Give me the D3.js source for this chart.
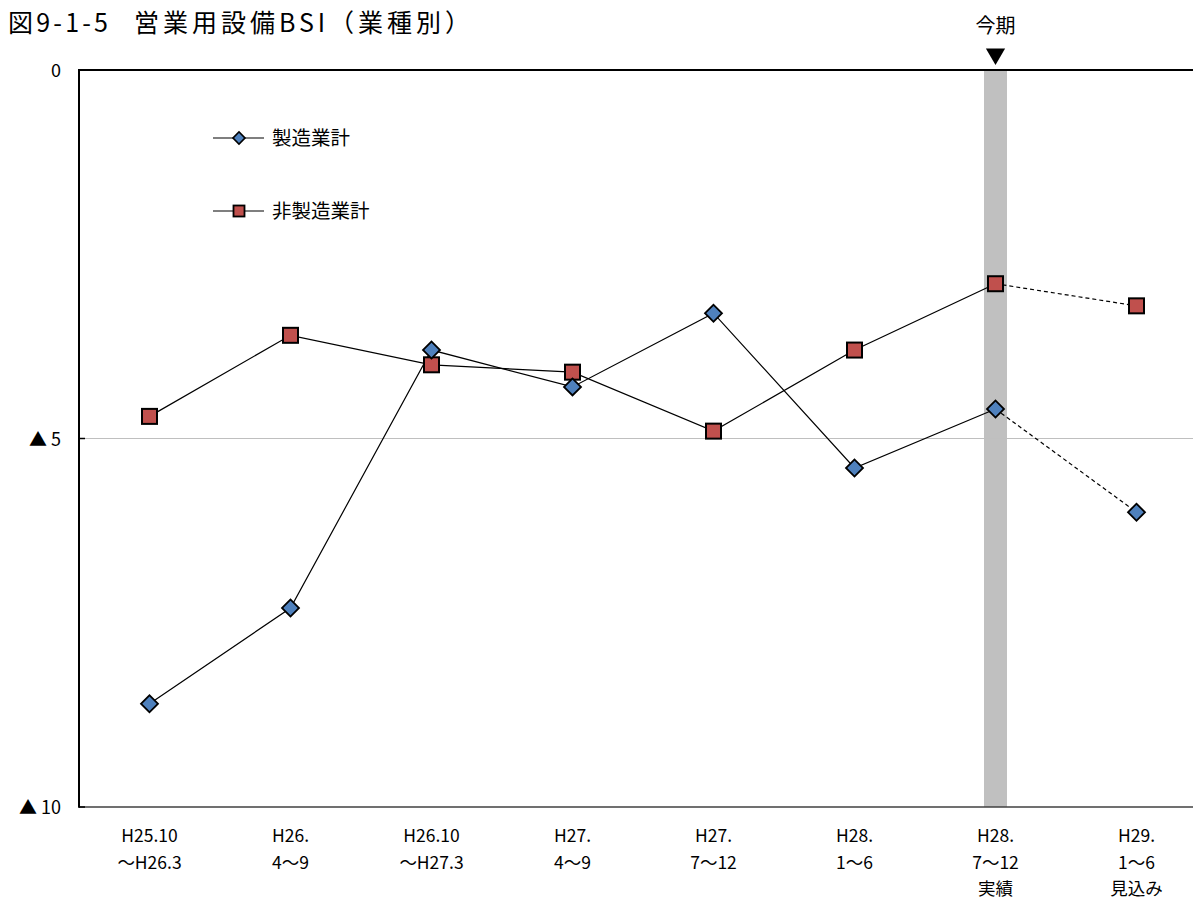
<!DOCTYPE html>
<html><head><meta charset="utf-8">
<script src="https://cdn.jsdelivr.net/npm/d3@7"></script>
<style>
body{margin:0;background:#fff;}
svg{display:block;font-family:"Noto Sans CJK JP","Noto Sans",sans-serif;}
</style></head>
<body><svg id="c" width="1193" height="901"></svg>
<script>
const categories = [
  ["H25.10","～H26.3"],
  ["H26.","4～9"],
  ["H26.10","～H27.3"],
  ["H27.","4～9"],
  ["H27.","7～12"],
  ["H28.","1～6"],
  ["H28.","7～12","実績"],
  ["H29.","1～6","見込み"]
];
const manufacturing = [-8.6, -7.3, -3.8, -4.3, -3.3, -5.4, -4.6, -6.0];
const nonManufacturing = [-4.7, -3.6, -4.0, -4.1, -4.9, -3.8, -2.9, -3.2];
const yTicks = [0, -5, -10];
const yTickLabels = ["0", "▲ 5", "▲ 10"];
const seriesNames = ["製造業計", "非製造業計"];
const titleParts = ["図9-1-5", "営業用設備BSI（業種別）"];
const currentIndex = 6;

const svg = d3.select("#c");
const x = d3.scaleBand().domain(d3.range(categories.length)).range([79, 1207]);
const y = d3.scaleLinear().domain([-10, 0]).range([807, 70]);
const cx = i => x(i) + x.bandwidth() / 2;

// title
svg.append("text").attr("x", 8).attr("y", 32).attr("font-size", 25)
  .attr("fill", "#000").attr("textLength", 100).attr("lengthAdjust", "spacing")
  .text(titleParts[0]);
svg.append("text").attr("x", 134).attr("y", 32).attr("font-size", 25)
  .attr("fill", "#000").attr("textLength", 336).attr("lengthAdjust", "spacing")
  .text(titleParts[1]);

// current period band
svg.append("rect").attr("x", cx(currentIndex) - 11.5).attr("width", 23)
  .attr("y", y(0)).attr("height", y(-10) - y(0)).attr("fill", "#c0c0c0");

// gridline at -5
svg.append("line").attr("x1", 79).attr("x2", 1193).attr("y1", y(-5)).attr("y2", y(-5))
  .attr("stroke", "#bfbfbf").attr("stroke-width", 1);

// axes
svg.append("line").attr("x1", 79).attr("x2", 1193).attr("y1", y(0)).attr("y2", y(0))
  .attr("stroke", "#000").attr("stroke-width", 2);
svg.append("line").attr("x1", 79).attr("x2", 1193).attr("y1", y(-10)).attr("y2", y(-10))
  .attr("stroke", "#404040").attr("stroke-width", 1.5);
svg.append("line").attr("x1", 79).attr("x2", 79).attr("y1", y(0) - 1).attr("y2", y(-10) + 0.75)
  .attr("stroke", "#000").attr("stroke-width", 2);
yTicks.forEach(t => {
  svg.append("line").attr("x1", 79).attr("x2", 85).attr("y1", y(t)).attr("y2", y(t))
    .attr("stroke", "#000").attr("stroke-width", 1.5);
});
yTicks.forEach((t, i) => {
  svg.append("text").attr("x", 61).attr("y", y(t) + 7).attr("text-anchor", "end")
    .attr("font-size", 18).attr("fill", "#000").text(yTickLabels[i]);
});

// x labels
categories.forEach((lines, i) => {
  const t = svg.append("text").attr("text-anchor", "middle").attr("font-size", 17.5).attr("fill", "#000");
  lines.forEach((s, j) => {
    t.append("tspan").attr("x", cx(i)).attr("y", 842 + j * 26.5).text(s);
  });
});

// 今期 marker
svg.append("text").attr("x", cx(currentIndex)).attr("y", 33).attr("text-anchor", "middle")
  .attr("font-size", 20).attr("fill", "#000").text("今期");
svg.append("path").attr("d", d3.symbol().type(d3.symbolTriangle).size(160)())
  .attr("transform", `translate(${cx(currentIndex)},54) rotate(180)`).attr("fill", "#000");

function drawSeries(vals) {
  const solid = vals.slice(0, currentIndex + 1).map((v, i) => [cx(i), y(v)]);
  const dashed = vals.slice(currentIndex).map((v, i) => [cx(i + currentIndex), y(v)]);
  const ln = d3.line();
  svg.append("path").attr("d", ln(solid)).attr("fill", "none").attr("stroke", "#000").attr("stroke-width", 1.2);
  svg.append("path").attr("d", ln(dashed)).attr("fill", "none").attr("stroke", "#000")
    .attr("stroke-width", 1.2).attr("stroke-dasharray", "4,3");
}
drawSeries(nonManufacturing);
drawSeries(manufacturing);

function diamond(g, px, py, s, sw) {
  g.append("rect").attr("x", -s / 2).attr("y", -s / 2).attr("width", s).attr("height", s)
    .attr("transform", `translate(${px},${py}) rotate(45)`)
    .attr("fill", "#4f81bd").attr("stroke", "#000").attr("stroke-width", sw);
}
function square(g, px, py, s, sw) {
  g.append("rect").attr("x", px - s / 2).attr("y", py - s / 2).attr("width", s).attr("height", s)
    .attr("fill", "#c0504d").attr("stroke", "#000").attr("stroke-width", sw);
}
nonManufacturing.forEach((v, i) => square(svg, cx(i), y(v), 15, 2));
manufacturing.forEach((v, i) => diamond(svg, cx(i), y(v), 12, 1.8));

// legend
[138, 211].forEach((ly, k) => {
  svg.append("line").attr("x1", 213).attr("x2", 264).attr("y1", ly).attr("y2", ly)
    .attr("stroke", "#000").attr("stroke-width", 1.2);
  if (k === 0) diamond(svg, 239, ly, 8.5, 1.6);
  else square(svg, 239, ly, 11, 1.8);
  svg.append("text").attr("x", 272).attr("y", ly + 7).attr("font-size", 19.5).attr("fill", "#000")
    .text(seriesNames[k]);
});
</script>
</body></html>
